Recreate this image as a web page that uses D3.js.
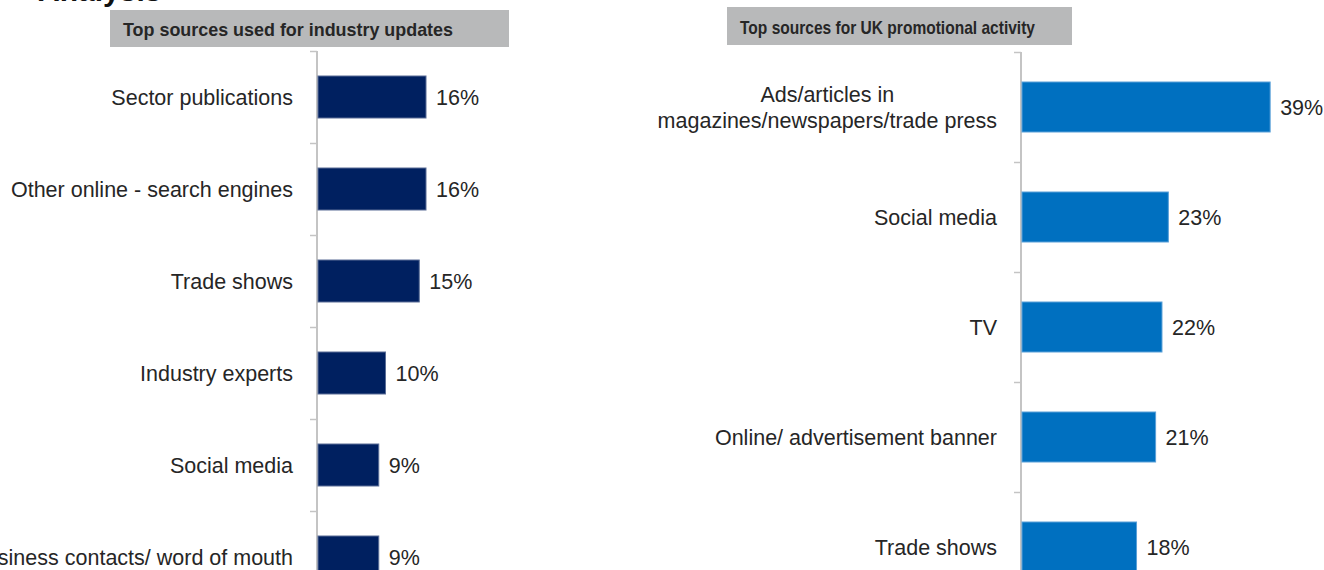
<!DOCTYPE html>
<html><head><meta charset="utf-8">
<script src="https://cdn.jsdelivr.net/npm/d3@7"></script>
<style>
html,body{margin:0;padding:0;background:#fff;overflow:hidden;}
svg{display:block;font-family:"Liberation Sans",Arial,sans-serif;}
</style></head>
<body>
<svg id="c" width="1324" height="570"></svg>
<script>
// ---- data ----
const leftTitle = "Top sources used for industry updates";
const leftCategories = ["Sector publications","Other online - search engines","Trade shows","Industry experts","Social media","Business contacts/ word of mouth"];
const leftValues = [16,16,15,10,9,9];
const leftLabels = ["16%","16%","15%","10%","9%","9%"];

const rightTitle = "Top sources for UK promotional activity";
const rightCategories = [["Ads/articles in","magazines/newspapers/trade press"],["Social media"],["TV"],["Online/ advertisement banner"],["Trade shows"]];
const rightValues = [39,23,22,21,18];
const rightLabels = ["39%","23%","22%","21%","18%"];

const pageHeading = "Analysis";

const svg = d3.select("#c");
const textColor = "#262626";
const axisColor = "#c4c4c4";

// clipped heading at very top (only the bottom of it is visible in the source)
svg.append("text").attr("x",38).attr("y",1).attr("font-size",30).attr("font-weight","bold")
  .attr("fill","#111").text(pageHeading);

function panel(o){
  const g = svg.append("g");
  // title box
  g.append("rect").attr("x",o.tx).attr("y",o.ty).attr("width",o.tw).attr("height",o.th).attr("fill","#b8b9ba");
  g.append("text").attr("x",o.tx+13).attr("y",o.ty+o.th-11).attr("font-size",19).attr("font-weight","bold")
    .attr("fill",textColor).attr("textLength",o.tlen).attr("lengthAdjust","spacingAndGlyphs").text(o.title);

  const keys = o.cats.map((d,i)=>i);
  const pad = o.padInner;
  const y = d3.scaleBand().domain(keys).range([o.y0, o.y0+o.step*keys.length]).paddingInner(pad).paddingOuter(pad/2);
  const x = d3.scaleLinear().domain(o.xDomain).range([o.ax+1, o.ax+1+o.xWidth]);
  const step = y.step();
  const gapHalf = (step - y.bandwidth())/2;

  // axis line
  g.append("line").attr("x1",o.ax).attr("x2",o.ax).attr("y1",o.y0).attr("y2",o.y0+step*keys.length)
    .attr("stroke",axisColor).attr("stroke-width",2);
  // ticks at band boundaries
  const bounds = keys.map(k=>y(k)-gapHalf);
  g.selectAll("line.tick").data(bounds).join("line").attr("class","tick")
    .attr("x1",o.ax-7).attr("x2",o.ax).attr("y1",d=>d+0.5).attr("y2",d=>d+0.5)
    .attr("stroke",axisColor).attr("stroke-width",1.5);

  // bars
  g.selectAll("rect.bar").data(o.vals).join("rect").attr("class","bar")
    .attr("x",x(0)).attr("y",(d,i)=>y(i)).attr("width",d=>x(d)-x(0)).attr("height",y.bandwidth())
    .attr("fill",o.color).attr("stroke",o.edge).attr("stroke-width",1);

  // value labels
  g.selectAll("text.val").data(o.vals).join("text").attr("class","val")
    .attr("x",d=>x(d)+10).attr("y",(d,i)=>y(i)+y.bandwidth()/2+7.5)
    .attr("font-size",o.fs).attr("fill",textColor).text((d,i)=>o.labels[i]);

  // category labels
  o.cats.forEach((c,i)=>{
    const lines = Array.isArray(c)?c:[c];
    const cy = y(i)+y.bandwidth()/2;
    const lh = 26;
    const t = g.append("text").attr("font-size",o.fs).attr("fill",textColor);
    const spans = lines.map((l,j)=>t.append("tspan").attr("y",cy+7.5+(j-(lines.length-1)/2)*lh).text(l));
    if(lines.length===1){
      t.attr("text-anchor","end"); spans[0].attr("x",o.ax-24);
    } else {
      const w = d3.max(spans,s=>s.node().getComputedTextLength());
      t.attr("text-anchor","middle"); spans.forEach(s=>s.attr("x",o.ax-24-w/2));
    }
  });
}

panel({title:leftTitle,tx:110,ty:10,tw:399,th:37,tlen:330,
  cats:leftCategories,vals:leftValues,labels:leftLabels,
  y0:51,step:92,padInner:50/92,ax:317,xDomain:[0,20],xWidth:135,
  color:"#002060",edge:"#5a6d96",fs:21.5});

panel({title:rightTitle,tx:727,ty:7,tw:345,th:38,tlen:295,
  cats:rightCategories,vals:rightValues,labels:rightLabels,
  y0:52,step:110,padInner:60/110,ax:1021,xDomain:[0,40],xWidth:254.5,
  color:"#0070c0",edge:"#5aa0d8",fs:21.5});
</script>
</body></html>
